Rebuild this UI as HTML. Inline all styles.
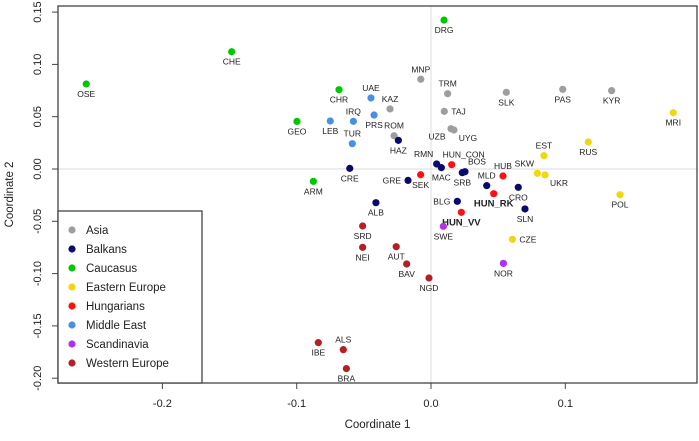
<!DOCTYPE html>
<html><head><meta charset="utf-8"><style>
body{margin:0;background:#fff}
svg{display:block;font-family:"Liberation Sans",sans-serif}
</style></head><body>
<svg id="chart" width="699" height="441"></svg>
<script>
const groups=["Asia","Balkans","Caucasus","Eastern Europe","Hungarians","Middle East","Scandinavia","Western Europe"];
const groupColors=["#9e9e9e","#0a0a6e","#00c800","#f2d60f","#ff1010","#4a90e2","#b030ee","#b52025"];
const names=["OSE","CHE","GEO","CHR","ARM","DRG","MNP","TRM","SLK","PAS","KYR","MRI","RUS","EST","SKW","UKR","POL","CZE","UAE","KAZ","IRQ","LEB","PRS","TAJ","ROM","HAZ","UZB","UYG","TUR","RMN","MAC","HUN_CON","BOS","SRB","HUB","CRE","GRE","SEK","MLD","CRO","HUN_RK","BLG","SLN","HUN_VV","ALB","SWE","SRD","NEI","AUT","BAV","NOR","NGD","IBE","ALS","BRA"];
const pointGroup=[2,2,2,2,2,2,0,0,0,0,0,3,3,3,3,3,3,3,5,0,5,5,5,0,0,1,0,0,5,1,1,4,1,1,4,1,1,4,1,1,4,1,1,4,1,6,7,7,7,7,6,7,7,7,7];
const coord1=[-0.2567,-0.1484,-0.0998,-0.0685,-0.0876,0.0097,-0.0076,0.0124,0.0561,0.0981,0.1345,0.1804,0.1171,0.0841,0.0792,0.0849,0.1407,0.0606,-0.0447,-0.0305,-0.0578,-0.0750,-0.0424,0.0099,-0.0275,-0.0243,0.0149,0.0171,-0.0586,0.0042,0.0077,0.0154,0.0253,0.0233,0.0536,-0.0605,-0.0171,-0.0077,0.0415,0.0650,0.0467,0.0196,0.0700,0.0226,-0.0410,0.0092,-0.0509,-0.0509,-0.0259,-0.0181,0.0539,-0.0015,-0.0839,-0.0653,-0.0630];
const coord2=[0.0813,0.1121,0.0455,0.0758,-0.0118,0.1424,0.0858,0.0720,0.0733,0.0762,0.0749,0.0538,0.0258,0.0127,-0.0041,-0.0057,-0.0246,-0.0672,0.0679,0.0574,0.0456,0.0459,0.0516,0.0551,0.0318,0.0274,0.0385,0.0373,0.0242,0.0048,0.0013,0.0041,-0.0026,-0.0035,-0.0067,0.0006,-0.0109,-0.0055,-0.0159,-0.0175,-0.0236,-0.0309,-0.0382,-0.0414,-0.0322,-0.0548,-0.0545,-0.0749,-0.0743,-0.0908,-0.0902,-0.1042,-0.1660,-0.1727,-0.1908];
const xTicks=[-0.2,-0.1,0.0,0.1];
const xTickLabels=["-0.2","-0.1","0.0","0.1"];
const yTicks=[0.15,0.10,0.05,0.00,-0.05,-0.10,-0.15,-0.20];
const yTickLabels=["0.15","0.10","0.05","0.00","-0.05","-0.10","-0.15","-0.20"];
// label placement (style only)
const place={OSE:"b",CHE:"b",GEO:"b",CHR:"b",ARM:"b",DRG:"b",MNP:"a",TRM:"a",SLK:"b",PAS:"b",KYR:"b",MRI:"b",RUS:"b",EST:"a",SKW:"al",UKR:"br",POL:"b",CZE:"r",UAE:"a",KAZ:"a",IRQ:"a",LEB:"b",PRS:"b",TAJ:"r",ROM:"a",HAZ:"b",UZB:"bl",UYG:"br",TUR:"a",RMN:"al",MAC:"b",HUN_CON:"ar",BOS:"ar",SRB:"b",HUB:"a",CRE:"b",GRE:"l",SEK:"b",MLD:"a",CRO:"b",HUN_RK:"b",BLG:"l",SLN:"b",HUN_VV:"b",ALB:"b",SWE:"b",SRD:"b",NEI:"b",AUT:"b",BAV:"b",NOR:"b",NGD:"b",IBE:"b",ALS:"a",BRA:"b"};

const L=58,R=697,T=6,B=383;
const xS=v=>431+v*1343;
const yS=v=>169-v*1046;
const svg=document.getElementById('chart');
const NS="http://www.w3.org/2000/svg";
function mk(tag,at,parent){const e=document.createElementNS(NS,tag);for(const k in at)e.setAttribute(k,at[k]);(parent||svg).appendChild(e);return e;}

let e;
e=mk('line',{x1:L,x2:R,y1:yS(0),y2:yS(0),stroke:'#e2e2e2','stroke-width':1.2});


e=mk('line',{x1:xS(0),x2:xS(0),y1:T,y2:B,stroke:'#e2e2e2','stroke-width':1.2});



xTicks.forEach((v,i)=>{
  e=mk('line',{x1:xS(v),x2:xS(v),y1:B,y2:B+6,stroke:'#444'});
  
  
  e=mk('text',{x:xS(v),y:B+24,'text-anchor':'middle','font-size':11,fill:'#222'});
  e.textContent=xTickLabels[i];
  
  
});
yTicks.forEach((v,i)=>{
  e=mk('line',{x1:L-6,x2:L,y1:yS(v),y2:yS(v),stroke:'#444'});
  
  
  e=mk('text',{x:0,y:0,'text-anchor':'middle','font-size':11,fill:'#222',transform:`translate(41,${yS(v)}) rotate(-90)`});
  e.textContent=yTickLabels[i];
  
  
});

names.forEach((n,i)=>{
  const cx=xS(coord1[i]),cy=yS(coord2[i]);
  e=mk('circle',{cx:cx,cy:cy,r:3.6,fill:groupColors[pointGroup[i]]});
  
  
  const p=place[n]||'b';
  let tx=cx,ty=cy+13,anc='middle';
  if(p==='a'){ty=cy-7;}
  else if(p==='r'){tx=cx+7;ty=cy+3;anc='start';}
  else if(p==='l'){tx=cx-7;ty=cy+3;anc='end';}
  else if(p==='bl'){tx=cx-14;ty=cy+11;}
  else if(p==='br'){tx=cx+14;ty=cy+11;}
  else if(p==='al'){tx=cx-13;ty=cy-7;}
  else if(p==='ar'){tx=cx+12;ty=cy-7;}
  const bold=n.indexOf('HUN_')===0&&n!=='HUN_CON';
  e=mk('text',{x:tx,y:ty,'text-anchor':anc,'font-size':bold?9.5:8.5,'font-weight':bold?'bold':'normal',fill:'#222'});
  e.textContent=n;
  
  
});

e=mk('rect',{x:L,y:T,width:R-L,height:B-T,fill:'none',stroke:'#444','stroke-width':1.3});



const lg=mk('g',{});


e=mk('rect',{x:L,y:211,width:144,height:B-211,fill:'#fff',stroke:'#444','stroke-width':1.3},lg);


groups.forEach((g,i)=>{
  const y=230+i*19;
  e=mk('circle',{cx:72,cy:y,r:3.6,fill:groupColors[i]},lg);
  
  
  e=mk('text',{x:86,y:y+4,'font-size':11.5,fill:'#222'},lg);
  e.textContent=g;
  
  
});

e=mk('text',{x:(L+R)/2,y:428,'text-anchor':'middle','font-size':11.5,fill:'#222'});
e.textContent='Coordinate 1';


e=mk('text',{x:0,y:0,'text-anchor':'middle','font-size':11.5,fill:'#222',transform:`translate(13,${(T+B)/2}) rotate(-90)`});
e.textContent='Coordinate 2';


</script>
</body></html>
